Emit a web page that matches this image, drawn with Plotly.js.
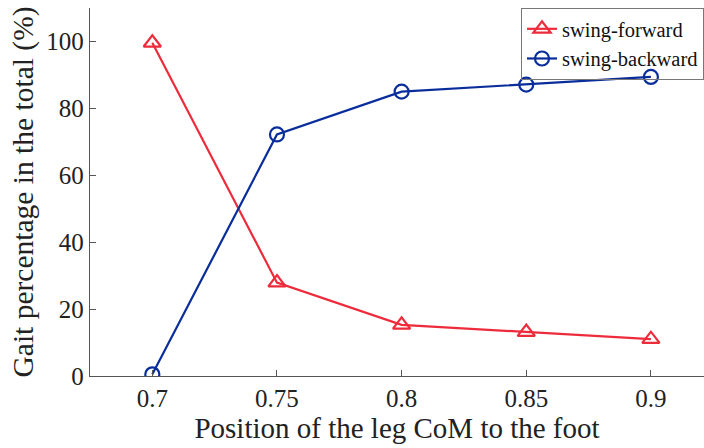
<!DOCTYPE html>
<html><head><meta charset="utf-8">
<script src="https://cdn.plot.ly/plotly-3.0.1.min.js"></script>
<style>html,body{margin:0;padding:0;background:#fff}</style>
</head><body><div id="chart" style="width:704px;height:448px"></div>
<script>
const positions = [0.7, 0.75, 0.8, 0.85, 0.9];
const swingForward = [99.6, 27.9, 15.3, 13.1, 11.0];
const swingBackward = [0.5, 72.2, 85.0, 87.1, 89.4];
const xTicks = [0.7, 0.75, 0.8, 0.85, 0.9];
const xTickLabels = ['0.7', '0.75', '0.8', '0.85', '0.9'];
const yTicks = [0, 20, 40, 60, 80, 100];

const red = '#ee2b3b', blue = '#0a2d9c';
const traces = [
  {x: positions, y: swingForward, name: 'swing-forward', mode: 'lines+markers',
   line: {color: red, width: 2.2},
   marker: {symbol: 'triangle-up-open', size: 15, color: red, line: {width: 2.2, color: red}}},
  {x: positions, y: swingBackward, name: 'swing-backward', mode: 'lines+markers',
   line: {color: blue, width: 2.2},
   marker: {symbol: 'circle-open', size: 14, color: blue, line: {width: 2.2, color: blue}}}
];
const fam = 'Liberation Serif, Times New Roman, serif';
const layout = {
  width: 704, height: 448,
  margin: {l: 90, r: 0, t: 8, b: 72},
  paper_bgcolor: '#fff', plot_bgcolor: '#fff',
  font: {family: fam, color: '#222'},
  showlegend: true,
  legend: {x: 1, xanchor: 'right', y: 1.0, yanchor: 'top',
    bordercolor: '#777', borderwidth: 1, bgcolor: 'rgba(255,255,255,0)',
    font: {family: fam, size: 20.5, color: '#111'},
    itemwidth: 30, tracegroupgap: 0},
  xaxis: {range: [0.675, 0.9213], tickvals: xTicks, ticktext: xTickLabels,
    ticks: 'inside', ticklen: 6, tickcolor: '#555', showgrid: false, zeroline: false,
    showline: true, linecolor: '#555', linewidth: 1.2,
    tickfont: {family: fam, size: 25, color: '#222'},
    title: {text: 'Position of the leg CoM to the foot', font: {family: fam, size: 29, color: '#222'}, standoff: 4}},
  yaxis: {range: [0, 110], tickvals: yTicks,
    ticks: 'inside', ticklen: 6, tickcolor: '#555', showgrid: false, zeroline: false,
    showline: true, linecolor: '#555', linewidth: 1.2,
    tickfont: {family: fam, size: 25, color: '#222'},
    title: {text: 'Gait percentage in the total (%)', font: {family: fam, size: 29.5, color: '#222'}, standoff: 4}}
};
Plotly.newPlot('chart', traces, layout, {displayModeBar: false, staticPlot: true});
</script></body></html>
